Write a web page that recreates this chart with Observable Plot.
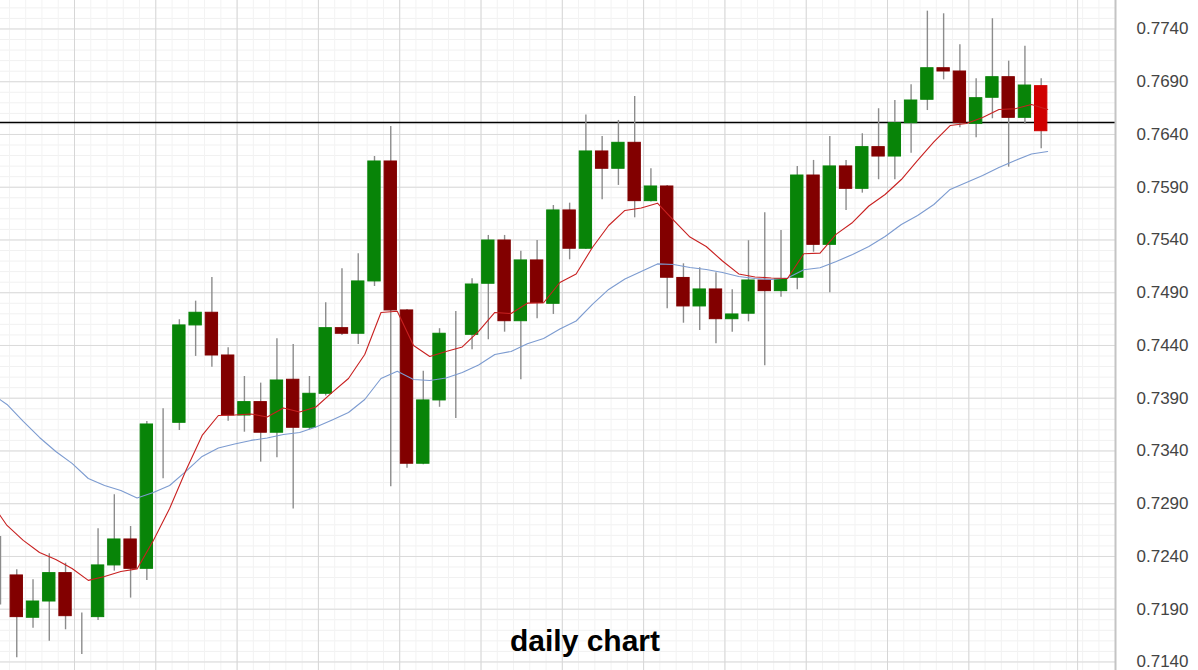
<!DOCTYPE html>
<html><head><meta charset="utf-8">
<script src="https://cdn.jsdelivr.net/npm/d3@7"></script>
<script src="https://cdn.jsdelivr.net/npm/@observablehq/plot@0.6"></script>
<style>
html,body{margin:0;padding:0;background:#fff;}
#chart{width:1198px;height:670px;overflow:hidden;}
</style>
</head><body><div id="chart"></div>
<script>
// Daily candles (index 0 = leftmost, partly cut off)
const opens  = [0.72220,0.72220,0.71819,0.71973,0.72242,0.71831,0.71825,0.72315,0.72561,0.72283,
                0.73664,0.73667,0.74590,0.74710,0.74305,0.73736,0.73863,0.73573,0.74075,0.73620,
                0.73942,0.74564,0.74511,0.75007,0.76144,0.74732,0.73279,0.73879,0.74506,0.74501,
                0.74985,0.75395,0.74630,0.75206,0.74795,0.75680,0.75317,0.76239,0.76075,0.76321,
                0.75768,0.75907,0.75040,0.74770,0.74931,0.74649,0.74701,0.75016,0.74915,0.75042,
                0.76011,0.75354,0.76097,0.75885,0.76280,0.76191,0.76507,0.76729,0.77028,0.76997,
                0.76501,0.76748,0.76943,0.76558,0.76858];
const highs  = [0.72590,0.72274,0.72179,0.72426,0.72336,0.71863,0.72663,0.72985,0.72684,0.73680,
                0.73800,0.74644,0.74820,0.75045,0.74378,0.74106,0.74043,0.74464,0.74410,0.74106,
                0.74805,0.75127,0.75269,0.76191,0.76476,0.74740,0.74156,0.74559,0.74722,0.75032,
                0.75443,0.75443,0.75294,0.75395,0.75727,0.75749,0.76585,0.76381,0.76533,0.76760,
                0.76075,0.75917,0.75174,0.75136,0.75089,0.74928,0.75393,0.75658,0.75490,0.76097,
                0.76154,0.76381,0.76154,0.76407,0.76644,0.76722,0.76871,0.77569,0.77544,0.77250,
                0.76928,0.77497,0.77095,0.77237,0.76928];
const lows   = [0.71940,0.71440,0.71720,0.71597,0.71705,0.71471,0.71793,0.72261,0.72005,0.72173,
                0.73136,0.73594,0.74296,0.74194,0.73682,0.73578,0.73294,0.73336,0.72850,0.73600,
                0.73920,0.74495,0.74410,0.74959,0.73061,0.73237,0.73270,0.73814,0.73708,0.74359,
                0.74454,0.74526,0.74075,0.74653,0.74694,0.75212,0.75310,0.75781,0.75917,0.75610,
                0.75760,0.74748,0.74611,0.74542,0.74416,0.74526,0.74624,0.74207,0.74858,0.74928,
                0.75284,0.74900,0.75680,0.75844,0.75971,0.75971,0.76223,0.76627,0.76918,0.76464,
                0.76369,0.76549,0.76090,0.76495,0.76264];
const closes = [0.72220,0.71825,0.71973,0.72242,0.71834,0.71831,0.72315,0.72561,0.72283,0.73651,
                0.73664,0.74590,0.74710,0.74305,0.73736,0.73863,0.73573,0.74068,0.73620,0.73942,
                0.74564,0.74511,0.75007,0.76144,0.74732,0.73279,0.73879,0.74511,0.74506,0.74978,
                0.75395,0.74630,0.75206,0.74801,0.75680,0.75317,0.76239,0.76075,0.76321,0.75768,
                0.75907,0.75042,0.74770,0.74931,0.74649,0.74694,0.75016,0.74915,0.75026,0.76011,
                0.75354,0.76097,0.75885,0.76280,0.76191,0.76507,0.76722,0.77028,0.76997,0.76507,
                0.76744,0.76943,0.76558,0.76864,0.76431];
// Moving averages (first value = day before the first visible candle)
const maFast = [0.72915,
                0.72694,0.72552,0.72438,0.72372,0.72286,0.72173,0.72210,0.72258,0.72282,0.72552,
                0.72855,0.73215,0.73547,0.73736,0.73741,0.73751,0.73722,0.73808,0.73770,0.73817,
                0.73955,0.74087,0.74315,0.74713,0.74725,0.74400,0.74296,0.74343,0.74386,0.74533,
                0.74713,0.74703,0.74801,0.74805,0.74997,0.75078,0.75329,0.75537,0.75680,0.75703,
                0.75749,0.75585,0.75428,0.75338,0.75201,0.75078,0.75049,0.75040,0.75035,0.75269,
                0.75275,0.75455,0.75566,0.75722,0.75831,0.75973,0.76154,0.76329,0.76485,0.76504,
                0.76561,0.76637,0.76644,0.76684,0.76637];
const maSlow = [0.73946,
                0.73841,0.73680,0.73528,0.73395,0.73282,0.73139,0.73073,0.73026,0.72955,0.73007,
                0.73073,0.73206,0.73348,0.73428,0.73466,0.73500,0.73523,0.73556,0.73575,0.73627,
                0.73694,0.73765,0.73888,0.74087,0.74156,0.74078,0.74068,0.74092,0.74144,0.74215,
                0.74315,0.74343,0.74416,0.74466,0.74556,0.74632,0.74789,0.74931,0.75030,0.75101,
                0.75173,0.75168,0.75139,0.75120,0.75092,0.75054,0.75035,0.75026,0.75040,0.75118,
                0.75136,0.75196,0.75263,0.75338,0.75433,0.75547,0.75632,0.75736,0.75879,0.75945,
                0.76011,0.76087,0.76154,0.76215,0.76239];
const levelLine = [0.76514];
const yTicks = [0.7140,0.7190,0.7240,0.7290,0.7340,0.7390,0.7440,0.7490,0.7540,0.7590,0.7640,0.7690,0.7740];
const yMinorTicks = d3.range(0.7130, 0.7770, 0.001);
const xGridTicks = [4.55,9.55,14.55,19.55,24.55,29.55,34.55,39.55,44.55,49.55,54.55,59.55,66.24];
const xMinorTicks = d3.range(0.55, 68, 1);
const xDomain = [0, 68.57];
const yDomain = [0.71319, 0.77670];
const title = "daily chart";

const candles = opens.map((o, i) => ({i, open: o, high: highs[i], low: lows[i], close: closes[i]}));
const last = candles.length - 1;
const bodyColor = d => d.i === last ? "#d00000" : d.close > d.open ? "#088408" : d.close < d.open ? "#820000" : "#8a8a8a";
const fastPts = maFast.map((v, k) => ({x: k - 1 + 0.4, y: v}));
const slowPts = maSlow.map((v, k) => ({x: k - 1 + 0.4, y: v}));

const chart = Plot.plot({
  width: 1198, height: 670,
  marginLeft: 0, marginRight: 83, marginTop: 0, marginBottom: 0,
  x: {domain: xDomain, axis: null},
  y: {domain: yDomain, axis: null},
  color: {type: "identity"},
  style: {background: "#fff", fontFamily: "'Liberation Sans', Arial, sans-serif", overflow: "visible"},
  marks: [
    Plot.gridY(yMinorTicks, {stroke: "#f1f1f1", strokeOpacity: 1}),
    Plot.gridX(xMinorTicks, {stroke: "#f3f3f3", strokeOpacity: 1}),
    Plot.gridY(yTicks, {stroke: "#dadada", strokeOpacity: 1}),
    Plot.gridX(xGridTicks, {stroke: "#d6d6d6", strokeOpacity: 1}),
    Plot.ruleY(levelLine, {stroke: "#000", strokeWidth: 1.4}),
    Plot.ruleX(candles, {x: "i", y1: "low", y2: "high", stroke: "#8c8c8c", strokeWidth: 1.4, clip: true}),
    Plot.rect(candles, {x1: d => d.i - 0.38, x2: d => d.i + 0.38, y1: "open", y2: "close",
      fill: bodyColor, stroke: bodyColor, strokeWidth: 1, clip: true}),
    Plot.line(slowPts, {x: "x", y: "y", stroke: "#7c9bd0", strokeWidth: 1.1, clip: true}),
    Plot.line(fastPts, {x: "x", y: "y", stroke: "#c82020", strokeWidth: 1.1, clip: true}),
    Plot.ruleX([xDomain[1]], {stroke: "#c4c4c4", strokeWidth: 2}),
    Plot.axisY(yTicks, {anchor: "right", tickSize: 0, tickPadding: 21, tickFormat: d3.format(".4f"),
      fontSize: 17, fill: "#444", label: null}),
    Plot.text([title], {frameAnchor: "bottom", dx: 27, dy: -20, lineAnchor: "bottom",
      fontSize: 30, fontWeight: "bold", fill: "#000"})
  ]
});
document.getElementById("chart").appendChild(chart);
</script>
</body></html>
